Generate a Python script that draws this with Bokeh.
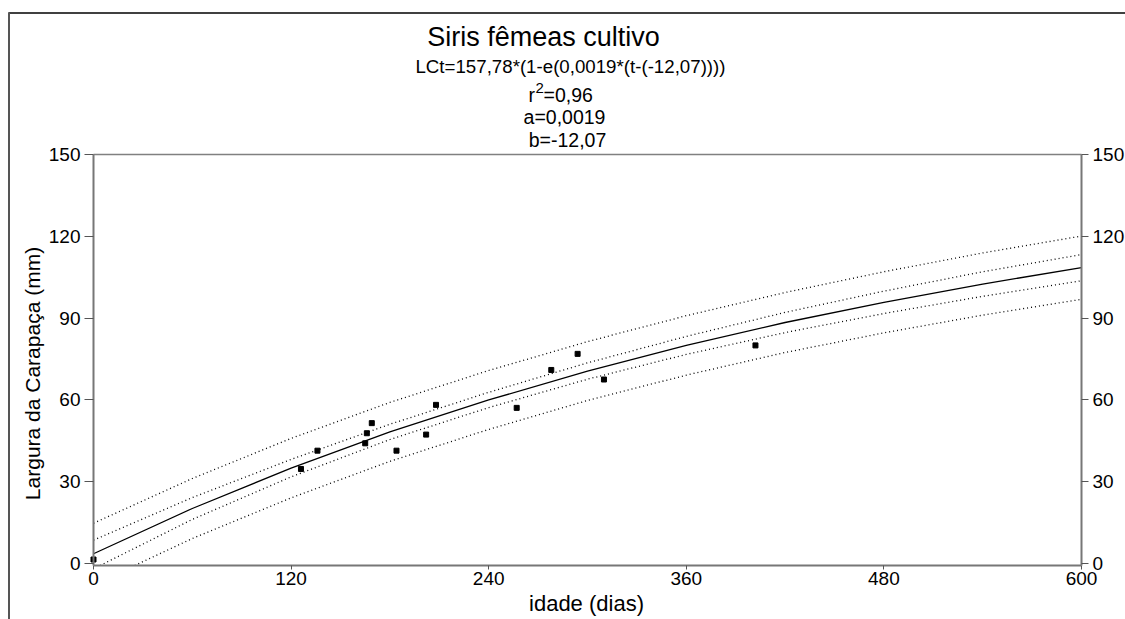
from bokeh.plotting import figure
from bokeh.models import Range1d, LinearAxis, FixedTicker, Label, Arrow
from bokeh.embed import file_html
from bokeh.resources import INLINE
import math

# ---------------- data ----------------
age_days = [0, 126, 136, 165, 166, 169, 184, 202, 208, 257, 278, 294, 310, 402]
width_mm = [1.5, 34.7, 41.4, 44.1, 47.8, 51.5, 41.4, 47.3, 58.2, 57.1, 71.0, 76.9, 67.5, 80.0]

curve_t = [0, 60, 120, 180, 240, 300, 360, 420, 480, 540, 600]
curve_fit = [3.6, 20.2, 35.0, 48.3, 60.0, 70.6, 80.0, 88.4, 95.8, 102.5, 108.5]
conf_upper = [8.6, 24.2, 38.2, 51.1, 62.8, 73.6, 83.3, 92.1, 99.9, 107.0, 113.3]
pred_upper = [14.8, 31.2, 45.9, 59.1, 70.8, 81.4, 90.9, 99.4, 107.0, 113.9, 120.1]
# lower bands: visible part starts where they leave the x axis
conf_lower_t = [4, 60, 120, 180, 240, 300, 360, 420, 480, 540, 600]
conf_lower = [-0.7, 16.2, 31.8, 45.5, 57.2, 67.6, 76.7, 84.7, 91.7, 98.0, 103.7]
pred_lower_t = [25, 60, 120, 180, 240, 300, 360, 420, 480, 540, 600]
pred_lower = [-0.7, 9.2, 24.1, 37.5, 49.2, 59.8, 69.1, 77.4, 84.6, 91.1, 96.9]

x_ticks = [0, 120, 240, 360, 480, 600]
y_ticks = [0, 30, 60, 90, 120, 150]
x_lim = (0, 600)
y_lim = (-0.7, 150)

title_text = "Siris fêmeas cultivo"
eq_text = "LCt=157,78*(1-e(0,0019*(t-(-12,07))))"
r2_text = "=0,96"
a_text = "a=0,0019"
b_text = "b=-12,07"
xlabel = "idade (dias)"
ylabel = "Largura da Carapaça (mm)"

# ---------------- layout (page pixels) ----------------
W, H = 1125, 619
FL, FR, FT, FB = 93, 1081, 154, 565   # plot box edges
FONT = "Liberation Sans"

def px2x(px):
    return x_lim[0] + (px - FL) / (FR - FL) * (x_lim[1] - x_lim[0])

def py2y(py):
    return y_lim[0] + (FB - py) / (FB - FT) * (y_lim[1] - y_lim[0])

# the frame fills the whole canvas; axes are pinned at the plot box edges
p = figure(width=W, height=H, output_backend="svg", toolbar_location=None,
           x_range=Range1d(px2x(0), px2x(W)), y_range=Range1d(py2y(H), py2y(0)),
           min_border=0, min_border_left=0, min_border_right=0,
           min_border_top=0, min_border_bottom=0)
p.title.visible = False
p.xgrid.visible = False
p.ygrid.visible = False
p.background_fill_color = "white"
p.border_fill_color = "white"
p.outline_line_color = None

AX_COL = "#777777"

def style_axis(ax, ticks, tick_out, standoff, loc, bounds):
    ax.fixed_location = loc
    ax.bounds = bounds
    ax.ticker = FixedTicker(ticks=ticks)
    ax.axis_line_color = AX_COL
    ax.axis_line_width = 2
    ax.major_tick_line_color = "#555555"
    ax.major_tick_line_width = 1
    ax.major_tick_out = tick_out
    ax.major_tick_in = 0
    ax.minor_tick_line_color = None
    ax.major_label_text_font = FONT
    ax.major_label_text_font_size = "19px"
    ax.major_label_text_color = "black"
    ax.major_label_standoff = standoff

style_axis(p.xaxis[0], x_ticks, 4, 2, y_lim[0], x_lim)
style_axis(p.yaxis[0], y_ticks, 9, 4, x_lim[0], y_lim)
right_axis = LinearAxis()
style_axis(right_axis, y_ticks, 7, 4, x_lim[1], y_lim)
p.add_layout(right_axis, "right")
top_axis = LinearAxis()
style_axis(top_axis, [], 0, 0, y_lim[1], x_lim)
top_axis.axis_line_color = "#808080"
top_axis.axis_line_width = 1.5
top_axis.major_label_text_color = None
p.add_layout(top_axis, "above")

# ---------------- glyphs ----------------
for tt, band in ((curve_t, pred_upper), (curve_t, conf_upper),
                 (conf_lower_t, conf_lower), (pred_lower_t, pred_lower)):
    p.line(tt, band, line_color="black", line_width=1.3, line_dash="1 3")
p.line(curve_t, curve_fit, line_color="black", line_width=1.3)
p.scatter(age_days, width_mm, marker="square", size=5, fill_color="black", line_color="black")

# ---------------- texts ----------------
def add_label(text, px, py, size, align="center", angle=0.0):
    p.add_layout(Label(x=px2x(px), y=py2y(py), text=text, text_font=FONT,
                       text_font_size=size, text_align=align, text_baseline="middle",
                       text_color="black", angle=angle))

add_label(title_text, 543, 36, "27px")
add_label(eq_text, 570, 66, "18.7px")
add_label("r", 528, 94, "19.5px", align="left")
add_label("2", 535, 87, "15px", align="left")
add_label(r2_text, 543, 94, "19.5px", align="left")
add_label(a_text, 564, 116, "19.5px")
add_label(b_text, 567, 139, "19.5px")
add_label(xlabel, 586, 603, "22px")
add_label(ylabel, 32, 373, "21px", angle=math.pi / 2)

# ---------------- outer frame lines of the original graphic ----------------
p.add_layout(Arrow(end=None, start=None, x_start=px2x(8), y_start=py2y(12.5),
                   x_end=px2x(W), y_end=py2y(12.5), line_color="black", line_width=1.5))
p.add_layout(Arrow(end=None, start=None, x_start=px2x(8.5), y_start=py2y(12),
                   x_end=px2x(8.5), y_end=py2y(H), line_color="#555555", line_width=2))

open("out.html", "w").write(file_html(p, INLINE))
